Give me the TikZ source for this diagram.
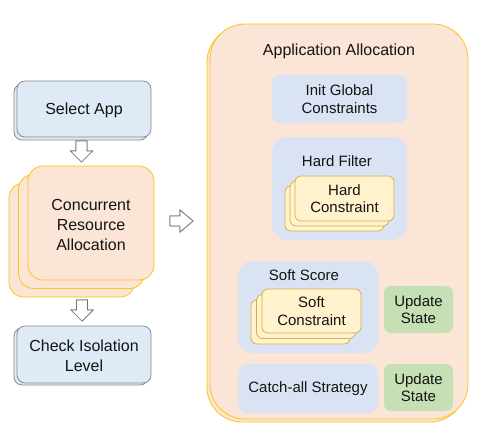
\documentclass[tikz,border=0pt]{standalone}
\usepackage{fontspec}
\usetikzlibrary{calc}
\setmainfont{Liberation Sans}
\definecolor{lblue}{HTML}{DEEAF6}
\definecolor{lgray}{HTML}{8C8C8C}
\definecolor{peach}{HTML}{FBE5D6}
\definecolor{gold}{HTML}{FFC318}
\definecolor{cblue}{HTML}{DAE3F3}
\definecolor{cgreen}{HTML}{C5E0B4}
\definecolor{cyel}{HTML}{FFF2CC}
\definecolor{cyeldraw}{HTML}{D6B04A}
\definecolor{txt}{HTML}{141414}
\begin{document}
\begin{tikzpicture}[x=1pt,y=-1pt,
  bigtxt/.style={font=\fontsize{16}{20}\selectfont, text=txt, align=center, yshift=-1.5pt},
  smalltxt/.style={font=\fontsize{15}{17.5}\selectfont, text=txt, align=center},
  leftbox/.style={draw=lgray, fill=lblue, line width=0.8pt, rounded corners=8pt},
  peachbox/.style={draw=gold, fill=peach, line width=0.8pt},
  contbox/.style={fill=cblue, draw=none},
  greenbox/.style={fill=cgreen, draw=none, rounded corners=7pt},
  consbox/.style={fill=cyel, draw=cyeldraw, line width=0.8pt, rounded corners=6pt},
  barrow/.style={draw=lgray!80!black, fill=white, line width=0.7pt, line join=miter}
]
\useasboundingbox (0,0) rectangle (483,448);

% ---------- left column ----------
\draw[leftbox] (14,84) rectangle (148,140);
\node[leftbox, minimum width=134pt, minimum height=56pt, inner sep=0pt] (sel) at (84,109) {};
\node[bigtxt] (seltxt) at (sel.center) {Select App};

\draw[peachbox, rounded corners=15pt] (9,183) rectangle (135,297);
\draw[peachbox, rounded corners=15pt] (18.5,174.5) rectangle (144.5,288.5);
\node[peachbox, rounded corners=15pt, minimum width=126pt, minimum height=114pt, inner sep=0pt] (conc) at (91,223) {};
\node[bigtxt] (conctxt) at (conc.center) {Concurrent\\Resource\\Allocation};

\draw[leftbox] (14,328) rectangle (148,385);
\node[leftbox, minimum width=134pt, minimum height=57pt, inner sep=0pt] (chk) at (84,354.5) {};
\node[bigtxt] (chktxt) at (chk.center) {Check Isolation\\Level};

% block arrows (drawn twice, slightly offset, for the doubled outline)
\coordinate (d1t) at (81.5,141);
\coordinate (d1b) at (81.5,162);
\foreach \o in {-2,0}{
\draw[barrow, yshift=-\o pt] ($(d1t)+(-5.5,0)$) -- ($(d1t)+(5.5,0)$) -- ($(d1b)+(5.5,-11)$) -- ($(d1b)+(11,-11)$) -- (d1b) -- ($(d1b)+(-11,-11)$) -- ($(d1b)+(-5.5,-11)$) -- cycle;}
\coordinate (d2t) at (82,300);
\coordinate (d2b) at (82,321);
\foreach \o in {-2,0}{
\draw[barrow, yshift=-\o pt] ($(d2t)+(-5.5,0)$) -- ($(d2t)+(5.5,0)$) -- ($(d2b)+(5.5,-11)$) -- ($(d2b)+(11,-11)$) -- (d2b) -- ($(d2b)+(-11,-11)$) -- ($(d2b)+(-5.5,-11)$) -- cycle;}
\coordinate (rl) at (170,221);
\coordinate (rr) at (193,221);
\foreach \o in {-2,0}{
\draw[barrow, xshift=\o pt] ($(rl)+(0,-5)$) -- ($(rr)+(-13,-5)$) -- ($(rr)+(-13,-11)$) -- (rr) -- ($(rr)+(-13,11)$) -- ($(rr)+(-13,5)$) -- ($(rl)+(0,5)$) -- cycle;}

% ---------- application allocation ----------
\draw[peachbox, rounded corners=35pt] (207,27) rectangle (465,422);
\node[peachbox, rounded corners=35pt, minimum width=258pt, minimum height=395pt, inner sep=0pt] (app) at (339,221.5) {};
\node[bigtxt] (apptitle) at (339,50) {Application Allocation};

\node[contbox, rounded corners=8pt, minimum width=135pt, minimum height=48pt, inner sep=0pt] (init) at (339.5,99) {};
\node[smalltxt] (inittxt) at (init.center) {Init Global\\Constraints};

\node[contbox, rounded corners=15pt, minimum width=135pt, minimum height=103pt, inner sep=0pt] (hard) at (339.5,188.5) {};
\node[smalltxt] (hardtitle) at (337,161) {Hard Filter};
\draw[consbox] (285,186) rectangle (384,231);
\draw[consbox] (290,181) rectangle (389,226);
\node[consbox, minimum width=99pt, minimum height=45pt, inner sep=0pt] (hc) at (344.5,198.5) {};
\node[smalltxt] (hctxt) at (hc.center) {Hard\\Constraint};

\node[contbox, rounded corners=15pt, minimum width=140pt, minimum height=92pt, inner sep=0pt] (soft) at (308,307) {};
\node[smalltxt] (softtitle) at (304,275) {Soft Score};
\draw[consbox] (251,300) rectangle (350,344);
\draw[consbox] (256.5,294.5) rectangle (355.5,338.5);
\node[consbox, minimum width=99pt, minimum height=44pt, inner sep=0pt] (sc) at (311.5,311) {};
\node[smalltxt] (sctxt) at (sc.center) {Soft\\Constraint};

\node[greenbox, minimum width=69pt, minimum height=47pt, inner sep=0pt] (up1) at (418.5,309.5) {};
\node[smalltxt] (up1txt) at (up1.center) {Update\\State};

\node[contbox, rounded corners=10pt, minimum width=140pt, minimum height=49pt, inner sep=0pt] (catch) at (308,388.5) {};
\node[smalltxt] (catchtxt) at (catch.center) {Catch-all Strategy};

\node[greenbox, minimum width=69pt, minimum height=47pt, inner sep=0pt] (up2) at (418.5,387.5) {};
\node[smalltxt] (up2txt) at (up2.center) {Update\\State};
\end{tikzpicture}
\end{document}
